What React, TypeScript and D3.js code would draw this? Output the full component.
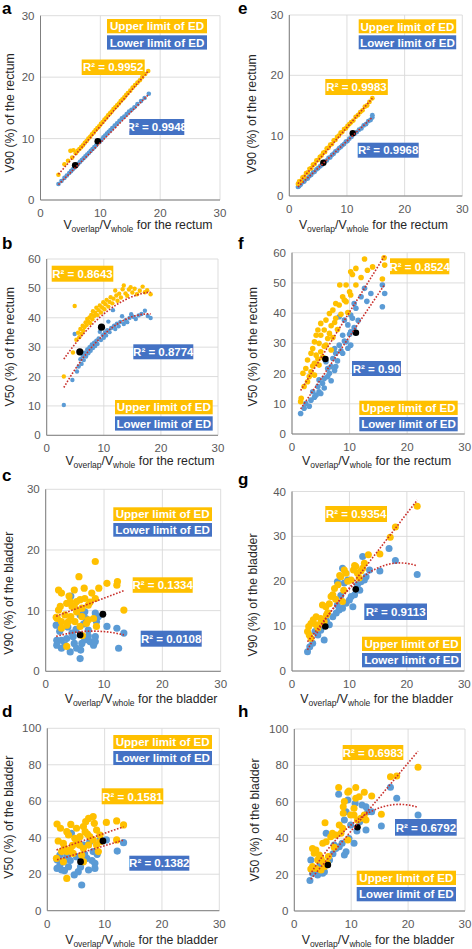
import React from 'react';
import * as d3 from 'd3';

const FONT = '"Liberation Sans", Arial, Helvetica, sans-serif';
const ORANGE = '#FFC000';
const BLUE_PT = '#5B9BD5';
const BLUE_BOX = '#4472C4';
const TREND = '#C9302C';

const xTicks = [0, 10, 20, 30];
const yTicks30 = [0, 10, 20, 30];
const yTicks40 = [0, 10, 20, 30, 40];
const yTicks60 = [0, 10, 20, 30, 40, 50, 60];
const yTicks100 = [0, 20, 40, 60, 80, 100];

// ---------- panel a : V90 rectum (ED set 1)
const aUpper = [[3.0,4.1],[4.0,5.8],[4.6,6.4],[5.0,8.0],[5.5,8.1],[5.3,6.9],[5.9,7.6],[6.2,8.0],[6.5,8.3],[6.8,8.6],[7.1,8.9],[7.4,9.3],[7.7,9.6],[8.0,10.0],[8.3,10.3],[8.6,10.7],[8.9,11.0],[9.2,11.4],[9.5,11.7],[9.8,12.0],[10.1,12.4],[10.4,12.7],[10.7,13.1],[11.0,13.4],[11.3,13.8],[11.6,14.1],[11.9,14.4],[12.2,14.8],[12.5,15.1],[12.8,15.4],[13.1,15.7],[13.4,16.1],[13.7,16.4],[14.0,16.7],[14.3,17.1],[14.6,17.4],[15.0,17.8],[15.4,18.3],[15.8,18.7],[16.2,19.1],[16.6,19.5],[17.0,20.0],[17.5,20.5],[18.0,21.0]];
const aLower = [[3.0,2.6],[3.5,3.1],[4.0,3.6],[4.4,4.0],[4.8,4.4],[5.1,4.7],[5.4,5.0],[5.7,5.3],[6.0,5.6],[6.3,5.9],[6.6,6.2],[6.9,6.5],[7.2,6.8],[7.5,7.1],[7.8,7.4],[8.1,7.7],[8.4,8.0],[8.7,8.3],[9.0,8.6],[9.3,8.9],[9.9,9.5],[10.2,9.8],[10.5,10.2],[10.8,10.5],[11.1,10.8],[11.4,11.1],[11.7,11.4],[12.0,11.7],[12.4,12.1],[12.8,12.5],[13.2,12.9],[13.6,13.3],[14.0,13.6],[14.4,14.0],[14.8,14.4],[15.2,14.7],[15.7,15.1],[16.2,15.6],[16.8,16.1],[17.4,16.6],[18.1,17.3]];
const aBlack = [[5.8,5.65],[9.57,9.55]];
const aTrend = [[0.82, 1.12, 0], [-0.42, 0.974, 0]];
const aR2 = ['0.9952', '0.9948'];

// ---------- panel e : V90 rectum (ED set 2)
const eUpper = [[1.5,2.0],[1.7,2.4],[2.0,2.5],[2.3,3.1],[2.6,3.2],[2.9,3.8],[3.2,3.9],[3.5,4.5],[3.8,4.6],[4.1,5.2],[4.4,5.3],[4.7,5.9],[5.0,6.0],[5.3,6.5],[5.6,6.7],[5.9,7.2],[6.2,7.3],[6.5,7.9],[6.8,8.0],[7.1,8.5],[7.4,8.6],[7.7,9.2],[8.0,9.3],[8.3,9.8],[8.6,10.0],[8.9,10.5],[9.2,10.6],[9.5,11.1],[9.8,11.2],[10.1,11.6],[10.4,11.9],[10.7,12.2],[11.1,12.5],[11.5,13.1],[11.9,13.4],[12.3,13.9],[12.7,14.2],[13.1,14.8],[13.5,15.0],[13.9,15.6],[14.4,16.2]];
const eLower = [[1.5,1.5],[1.7,1.6],[2.0,1.9],[2.3,2.3],[2.6,2.4],[2.9,2.8],[3.2,2.9],[3.5,3.3],[3.8,3.5],[4.1,3.9],[4.4,4.0],[4.7,4.4],[5.0,4.6],[5.3,4.9],[5.6,5.1],[6.2,5.7],[6.5,5.9],[6.8,6.3],[7.1,6.4],[7.4,6.8],[7.7,7.0],[8.0,7.4],[8.3,7.5],[8.6,7.9],[8.9,8.1],[9.2,8.4],[9.5,8.6],[9.8,9.0],[10.1,9.1],[10.4,9.5],[10.8,9.8],[11.3,10.3],[11.7,10.6],[12.1,11.0],[12.5,11.2],[12.9,11.7],[13.3,11.9],[13.7,12.4],[14.1,12.6],[14.4,13.0],[14.4,13.4]];
const eBlack = [[5.9,5.5],[11.0,10.4]];
const eTrend = [[0.39, 1.098, 0], [0.15, 0.8956, 0]];
const eR2 = ['0.9983', '0.9968'];

// ---------- panel b : V50 rectum (ED set 1)
const bUpper = [[3.0,20.0],[4.9,44.0],[4.6,28.2],[5.2,32.5],[5.5,34.9],[5.7,33.4],[5.9,36.2],[6.1,34.6],[6.3,37.3],[6.4,35.6],[6.6,36.8],[6.8,38.4],[7.0,37.5],[7.1,39.6],[7.3,38.7],[7.5,40.1],[7.6,38.2],[7.8,41.0],[8.0,39.5],[8.1,42.2],[8.3,40.6],[8.5,41.7],[8.7,43.4],[8.9,40.9],[9.1,42.6],[9.3,44.2],[9.5,41.8],[9.7,43.5],[9.9,45.3],[10.1,42.9],[10.3,44.6],[10.5,46.1],[10.8,43.8],[11.0,45.4],[11.2,47.0],[11.5,44.9],[11.7,46.5],[12.0,49.3],[12.2,47.6],[12.4,45.8],[12.7,48.2],[13.0,46.9],[13.3,49.7],[13.5,51.0],[13.8,48.3],[14.1,47.5],[14.4,49.6],[14.7,50.4],[15.0,48.6],[15.4,49.9],[15.8,48.0],[16.3,49.2],[16.8,50.6],[17.2,48.7],[17.6,49.4],[18.2,48.0]];
const bLower = [[3.0,10.3],[4.5,18.8],[4.9,34.5],[5.3,21.7],[5.6,23.4],[5.9,25.9],[6.1,24.3],[6.3,27.0],[6.5,25.6],[6.7,28.1],[6.9,26.8],[7.1,29.2],[7.3,27.9],[7.5,30.0],[7.7,28.8],[7.9,30.9],[8.1,29.7],[8.3,31.5],[8.5,30.4],[8.7,32.2],[8.9,31.1],[9.1,33.0],[9.3,35.2],[9.5,32.4],[9.8,34.1],[10.0,33.2],[10.2,35.0],[10.4,34.0],[10.6,35.8],[10.8,38.7],[11.0,35.1],[11.3,36.5],[11.6,42.6],[11.8,37.3],[12.0,36.2],[12.3,38.0],[12.6,37.1],[12.9,38.6],[13.2,40.5],[13.5,37.9],[13.8,39.2],[14.1,38.5],[14.5,39.9],[14.8,41.2],[15.2,40.3],[15.6,39.6],[16.1,40.8],[16.6,41.3],[17.2,42.4],[17.7,40.6],[18.2,39.9]];
const bBlack = [[5.8,28.4],[9.6,36.8]];
const bTrend = [[16.8, 3.296, -0.0846], [5.16, 4.04, -0.1128]];
const bR2 = ['0.8643', '0.8774'];

// ---------- panel f : V50 rectum (ED set 2)
const fUpper = [[1.5,10.7],[1.6,11.8],[1.9,20.1],[2.1,15.7],[2.4,21.7],[2.7,17.3],[2.7,24.5],[3.0,19.0],[3.3,20.6],[3.3,26.7],[3.6,28.3],[3.6,22.5],[3.9,23.4],[3.9,19.5],[3.9,30.5],[4.2,26.1],[4.2,32.7],[4.5,34.4],[4.5,24.8],[4.7,22.8],[4.7,30.0],[5.0,27.2],[5.0,32.7],[5.0,36.6],[5.3,25.5],[5.6,34.4],[5.6,29.0],[5.9,29.4],[5.9,37.7],[6.2,31.6],[6.5,33.3],[6.5,39.9],[6.8,27.8],[6.8,35.8],[7.1,41.0],[7.1,31.9],[7.4,36.9],[7.6,43.2],[7.6,38.3],[7.9,34.6],[8.2,42.7],[8.3,49.3],[8.5,39.6],[8.8,45.4],[9.1,44.3],[9.4,49.3],[9.4,43.8],[9.7,40.2],[10.0,47.1],[10.2,46.0],[10.2,53.7],[10.5,52.8],[11.1,54.8],[11.1,49.3],[12.0,51.8],[12.6,57.9],[13.1,54.2],[14.0,55.3],[15.7,51.3],[16.0,58.3],[16.1,55.9]];
const fLower = [[1.5,6.8],[2.1,8.5],[2.4,10.1],[3.0,9.2],[3.3,11.2],[3.6,14.0],[3.9,12.2],[4.2,12.9],[4.5,15.7],[4.7,14.0],[4.7,17.9],[5.0,13.4],[5.3,16.8],[5.6,18.4],[5.6,15.2],[5.9,23.9],[6.2,21.7],[6.2,19.0],[6.5,20.1],[6.8,22.3],[6.8,17.6],[7.1,25.0],[7.4,28.3],[7.4,21.0],[7.6,26.7],[7.6,22.3],[7.9,24.2],[8.2,29.4],[8.2,38.8],[8.5,27.5],[8.8,26.7],[8.8,32.7],[9.1,37.7],[9.1,30.8],[9.4,30.5],[9.7,36.1],[9.7,28.4],[10.0,33.0],[10.2,29.4],[10.2,39.4],[10.2,33.8],[10.5,38.3],[10.8,43.2],[10.8,35.2],[11.1,41.6],[11.5,37.6],[12.0,45.4],[12.6,48.2],[13.0,43.9],[13.7,46.5],[15.7,49.3],[15.7,42.1],[16.1,46.5]];
const fBlack = [[5.8,24.8],[11.1,33.5]];
const fTrend = [[9.82, 3.055, 0], [4.07, 2.82, 0]];
const fR2 = ['0.8524', '0.90'];

// ---------- panel c : V90 bladder (ED set 1)
const cUpper = [[8.5,18.1],[5.7,15.6],[10.5,14.5],[12.3,14.8],[12.2,14.2],[9.1,13.7],[6.6,13.7],[2.2,13.4],[2.7,12.9],[4.9,13.4],[7.9,12.9],[8.5,12.0],[6.7,12.0],[5.9,11.8],[5.3,11.5],[4.2,11.5],[3.6,11.2],[2.5,10.7],[4.9,10.7],[7.3,10.9],[6.2,10.4],[5.3,9.8],[2.2,10.1],[13.4,10.1],[3.3,9.3],[4.3,9.0],[6.2,9.0],[8.2,8.7],[2.0,8.7],[2.7,8.2],[5.0,8.2],[7.0,7.9],[5.9,7.4],[3.6,7.6],[8.7,7.4],[2.7,7.1],[7.3,8.5],[3.6,4.1],[6.3,5.9],[4.5,10.7],[1.8,8.9],[3.9,8.2],[7.6,11.4],[4.0,12.4]];
const cLower = [[4.3,12.4],[5.9,9.3],[6.7,9.8],[6.9,8.7],[7.3,6.8],[8.5,9.6],[9.0,9.0],[8.7,8.2],[8.5,5.7],[10.5,7.4],[12.2,7.1],[13.4,6.3],[12.5,3.8],[1.8,7.6],[1.9,5.1],[2.7,5.1],[3.3,4.3],[2.7,3.8],[4.2,3.2],[4.9,4.6],[5.3,3.8],[6.0,3.5],[5.9,2.1],[6.2,4.6],[6.7,5.2],[7.6,4.9],[8.2,4.3],[8.5,4.9],[7.3,5.8],[4.5,6.3],[3.6,5.4],[1.9,4.3],[4.7,5.7],[5.2,6.9],[2.4,6.6],[3.8,7.3],[6.5,7.8]];
const cBlack = [[5.9,6.0],[9.8,9.4]];
const cTrend = [[8.42, 0.364, 0], [5.186, 0.3565, -0.02207]];
const cR2 = ['0.1334', '0.0108'];

// ---------- panel g : V90 bladder (ED set 2)
const gUpper = [[2.7,8.8],[2.9,9.9],[3.0,8.0],[3.3,7.3],[3.3,10.6],[3.7,11.4],[4.2,10.3],[4.2,12.1],[4.5,9.6],[5.0,10.6],[5.0,11.7],[5.3,14.7],[5.6,11.0],[5.9,14.3],[6.2,13.0],[6.5,15.0],[6.8,16.6],[7.1,17.0],[7.4,18.4],[7.6,16.0],[8.0,19.2],[8.3,21.3],[8.5,21.0],[8.8,15.5],[9.1,22.5],[9.4,21.8],[9.7,20.0],[10.3,20.3],[10.7,22.5],[10.9,23.5],[11.1,23.3],[11.4,21.8],[11.7,20.7],[12.0,22.3],[12.3,22.9],[12.6,24.0],[13.3,25.9],[15.3,26.1],[17.1,29.8],[18.0,32.1],[21.8,36.7],[9.0,18.0],[6.0,12.5]];
const gLower = [[2.7,4.3],[3.1,5.4],[3.6,6.2],[5.6,6.9],[4.5,8.0],[5.0,9.1],[6.5,10.3],[7.1,12.1],[7.7,12.9],[8.2,13.6],[8.8,14.0],[7.9,14.7],[9.4,15.1],[10.0,15.8],[10.3,16.6],[10.9,17.0],[10.6,14.3],[11.4,19.2],[12.0,19.9],[12.6,20.3],[12.9,21.0],[9.7,20.3],[9.1,19.6],[7.9,19.9],[8.8,22.9],[12.3,25.5],[13.5,22.5],[15.3,22.3],[16.9,27.3],[18.0,24.6],[21.8,21.5],[4.0,8.8],[6.0,11.2],[8.5,16.8],[11.8,18.0]];
const gBlack = [[5.8,9.9],[11.1,18.2]];
const gTrend = [[2.03, 1.654, 0], [-2.34, 2.812, -0.0748]];
const gR2 = ['0.9354', '0.9113'];

// ---------- panel d : V50 bladder (ED set 1)
const dUpper = [[1.7,47.5],[2.3,45.2],[1.9,38.2],[1.6,28.7],[2.8,36.9],[3.4,43.3],[4.1,47.3],[3.7,41.5],[3.4,32.4],[4.0,33.3],[3.4,17.7],[4.8,39.7],[5.1,45.2],[5.7,40.6],[5.6,36.0],[6.3,46.1],[6.6,43.3],[6.7,48.8],[7.2,50.6],[8.0,51.6],[8.2,47.9],[8.6,44.2],[7.4,40.6],[8.0,38.8],[7.2,36.0],[6.3,34.2],[4.5,31.4],[2.5,32.4],[2.8,26.9],[6.3,26.9],[9.2,37.8],[10.3,48.4],[12.1,49.2],[13.3,47.0],[12.1,38.8],[9.2,41.5],[8.9,32.4],[6.0,30.5],[5.2,37.8],[8.6,36.0],[3.0,34.5],[4.4,35.8],[7.0,42.0]];
const dLower = [[1.7,23.2],[2.2,25.0],[2.5,22.3],[2.8,26.9],[3.4,29.6],[3.7,24.1],[4.7,19.6],[5.4,21.4],[6.0,14.1],[5.1,29.6],[6.9,28.7],[7.2,22.3],[8.3,26.0],[8.3,23.2],[7.4,37.8],[8.0,32.4],[9.2,38.8],[10.3,38.8],[12.2,32.7],[13.3,37.3],[4.2,42.4],[6.3,36.0],[2.2,30.5],[8.7,30.9],[1.7,28.0],[3.0,22.0],[4.0,27.5],[5.8,24.0],[7.8,27.5],[6.5,31.0]];
const dBlack = [[5.8,26.9],[9.7,38.2]];
const dTrend = [[31.6, 1.085, 0], [26.3, 0.932, 0]];
const dR2 = ['0.1581', '0.1382'];

// ---------- panel h : V50 bladder (ED set 2)
const hUpper = [[7.8,67.8],[10.8,67.8],[9.6,65.9],[9.4,65.2],[12.3,65.2],[11.4,62.8],[10.8,61.9],[8.8,60.1],[8.6,57.3],[10.5,56.4],[9.9,52.7],[8.6,53.7],[12.3,52.7],[11.1,50.0],[11.7,50.9],[12.6,50.0],[8.5,45.4],[8.2,42.7],[7.3,41.8],[6.7,42.7],[6.4,40.8],[5.4,48.5],[5.6,38.1],[5.0,37.2],[3.2,34.4],[3.8,33.5],[3.5,31.7],[4.4,30.8],[4.7,28.9],[4.1,28.0],[5.0,27.1],[5.8,26.2],[3.2,24.4],[3.8,23.4],[2.9,23.1],[4.7,22.5],[5.3,24.4],[9.4,39.0],[7.9,47.3],[10.5,52.7],[13.6,63.2],[15.3,53.1],[16.9,73.8],[18.0,74.2],[21.75,79.0],[7.0,35.0],[6.0,30.0]];
const hLower = [[2.75,16.7],[3.2,20.7],[2.9,28.0],[4.1,19.8],[5.0,20.7],[5.3,21.6],[5.6,42.7],[7.0,36.3],[7.3,34.4],[7.9,35.3],[8.4,37.2],[9.1,32.6],[8.8,30.8],[9.6,39.9],[9.9,47.3],[8.8,50.0],[7.8,64.1],[10.7,59.2],[9.4,61.0],[11.9,58.2],[12.6,57.3],[11.5,49.1],[12.6,44.5],[10.5,37.2],[12.9,54.6],[9.1,54.6],[13.6,54.6],[15.3,46.7],[16.9,68.0],[18.0,61.9],[21.75,52.7],[4.5,25.0],[6.2,28.0],[11.0,44.0],[3.8,22.5],[6.8,31.5]];
const hBlack = [[5.9,25.3],[11.1,46.0]];
const hTrend = [[6.7, 3.73, 0], [5.31, 5.761, -0.1557]];
const hR2 = ['0.6983', '0.6792'];

const panels = [
  { id: 'a', upper: aUpper, lower: aLower, black: aBlack, trend: aTrend, r2: aR2, yTicks: yTicks30, metric: 'V90', organ: 'rectum',
    x0: 40.5, x1: 220, y0: 200, y1: 15.7, r: 2.3, rb: 3.3, letter: [2, 14],
    legend: [107, 19, 100, 14.3], r2Box: [[81.7, 59.5, 63, 15.5], [129.3, 119, 55, 16]], xTitle: [138, 229], yTitle: [10, 113] },
  { id: 'e', upper: eUpper, lower: eLower, black: eBlack, trend: eTrend, r2: eR2, yTicks: yTicks30, metric: 'V90', organ: 'rectum',
    x0: 289.3, x1: 462.3, y0: 196, y1: 15, r: 2.4, rb: 3.2, letter: [238, 14],
    legend: [358.7, 19.3, 97.5, 14], r2Box: [[325.3, 79, 62.5, 16], [357.7, 142.7, 61, 15]], xTitle: [373.5, 229], yTitle: [252, 114] },
  { id: 'b', upper: bUpper, lower: bLower, black: bBlack, trend: bTrend, r2: bR2, yTicks: yTicks60, metric: 'V50', organ: 'rectum',
    x0: 46.7, x1: 218, y0: 435.3, y1: 259, r: 2.2, rb: 3.6, letter: [2, 249],
    legend: [115, 400, 97.7, 14.3], r2Box: [[51.7, 265.7, 61.6, 16], [133.3, 344.3, 60, 15]], xTitle: [140, 465], yTitle: [10, 346.7] },
  { id: 'f', upper: fUpper, lower: fLower, black: fBlack, trend: fTrend, r2: fR2, yTicks: yTicks60, metric: 'V50', organ: 'rectum',
    x0: 292, x1: 464.7, y0: 434, y1: 252.7, r: 2.8, rb: 3.3, letter: [238, 249],
    legend: [359.3, 400.7, 98.4, 14.3], r2Box: [[390, 258.3, 59.3, 16], [352, 361, 49, 15]], xTitle: [376.7, 465], yTitle: [253, 346.7] },
  { id: 'c', upper: cUpper, lower: cLower, black: cBlack, trend: cTrend, r2: cR2, yTicks: yTicks30, metric: 'V90', organ: 'bladder',
    x0: 45.7, x1: 220.7, y0: 671.3, y1: 489.3, r: 3.6, rb: 3.4, letter: [2, 481],
    legend: [113.3, 507.3, 98.7, 13.7], r2Box: [[132.7, 577.3, 60, 15.5], [140.7, 630.7, 61, 16]], xTitle: [141, 703], yTitle: [9, 593.3] },
  { id: 'g', upper: gUpper, lower: gLower, black: gBlack, trend: gTrend, r2: gR2, yTicks: yTicks40, metric: 'V90', organ: 'bladder',
    x0: 292, x1: 464.3, y0: 671, y1: 491.5, r: 3.5, rb: 3.3, letter: [238, 485],
    legend: [362, 636.7, 99, 14.3], r2Box: [[325.3, 506, 61.7, 16], [364.3, 603.5, 62.7, 16.5]], xTitle: [376.7, 703], yTitle: [253, 595] },
  { id: 'd', upper: dUpper, lower: dLower, black: dBlack, trend: dTrend, r2: dR2, yTicks: yTicks100, metric: 'V50', organ: 'bladder',
    x0: 47.3, x1: 219.3, y0: 910.7, y1: 728.3, r: 3.6, rb: 3.4, letter: [2, 717],
    legend: [113.3, 735, 98.7, 14], r2Box: [[101.7, 788.3, 61.6, 16], [129.3, 855.7, 60, 15]], xTitle: [141.5, 944], yTitle: [9, 817.3] },
  { id: 'h', upper: hUpper, lower: hLower, black: hBlack, trend: hTrend, r2: hR2, yTicks: yTicks100, metric: 'V50', organ: 'bladder',
    x0: 294.3, x1: 465, y0: 911, y1: 729, r: 3.5, rb: 3.3, letter: [238, 717],
    legend: [356.7, 870.7, 99.3, 14.3], r2Box: [[342.7, 745, 60.6, 15], [395, 819, 61.7, 16.7]], xTitle: [378, 944], yTitle: [254.5, 820] },
];

function Panel({ p }) {
  const yMax = p.yTicks[p.yTicks.length - 1];
  const x = d3.scaleLinear().domain([0, 30]).range([p.x0, p.x1]);
  const y = d3.scaleLinear().domain([0, yMax]).range([p.y0, p.y1]);
  const series = [p.upper, p.lower];
  const line = d3.line().x((d) => x(d[0])).y((d) => y(d[1]));
  const trendPaths = p.trend.map((c, i) => {
    const [lo, hi] = d3.extent(series[i], (d) => d[0]);
    const n = 40;
    const pts = d3.range(n + 1).map((k) => {
      const xv = lo + ((hi - lo) * k) / n;
      return [xv, c[0] + c[1] * xv + c[2] * xv * xv];
    });
    return line(pts);
  });
  const boxFill = [ORANGE, BLUE_BOX];
  const [lx, ly, lw, lh] = p.legend;
  return (
    <g>
      {xTicks.map((t) => (
        <line key={'gx' + t} x1={x(t)} x2={x(t)} y1={p.y0} y2={p.y1} stroke="#d9d9d9" strokeWidth={0.9} />
      ))}
      {p.yTicks.map((t) => (
        <line key={'gy' + t} x1={p.x0} x2={p.x1} y1={y(t)} y2={y(t)} stroke="#d9d9d9" strokeWidth={0.9} />
      ))}
      <line x1={p.x0} x2={p.x0} y1={p.y0} y2={p.y1} stroke="#7f7f7f" strokeWidth={1} />
      <line x1={p.x0} x2={p.x1} y1={p.y0} y2={p.y0} stroke="#7f7f7f" strokeWidth={1} />
      {xTicks.map((t) => (
        <text key={'tx' + t} x={x(t)} y={p.y0 + 16.8} textAnchor="middle" fontSize={11.5} fill="#595959" fontFamily={FONT}>{t}</text>
      ))}
      {p.yTicks.map((t) => (
        <text key={'ty' + t} x={p.x0 - 6} y={y(t) + 4} textAnchor="end" fontSize={11.5} fill="#595959" fontFamily={FONT}>{t}</text>
      ))}
      {p.lower.map((d, i) => (
        <circle key={'l' + i} cx={x(d[0])} cy={y(d[1])} r={p.r} fill={BLUE_PT} />
      ))}
      {p.upper.map((d, i) => (
        <circle key={'u' + i} cx={x(d[0])} cy={y(d[1])} r={p.r} fill={ORANGE} />
      ))}
      {p.black.map((d, i) => (
        <circle key={'k' + i} cx={x(d[0])} cy={y(d[1])} r={p.rb} fill="#000" />
      ))}
      {trendPaths.map((d, i) => (
        <path key={'tr' + i} d={d} fill="none" stroke={TREND} strokeWidth={1.6} strokeDasharray="1.6 1.6" />
      ))}
      {p.r2Box.map((b, i) => (
        <g key={'r2' + i}>
          <rect x={b[0]} y={b[1]} width={b[2]} height={b[3]} fill={boxFill[i]} />
          <text x={b[0] + b[2] / 2} y={b[1] + b[3] / 2 + 4.2} textAnchor="middle" fontSize={11.5} fontWeight="bold" fill="#fff" fontFamily={FONT}>
            {'R² = ' + p.r2[i]}
          </text>
        </g>
      ))}
      {['Upper limit of ED', 'Lower limit of ED'].map((t, i) => (
        <g key={'lg' + i}>
          <rect x={lx} y={ly + i * (lh + 2)} width={lw} height={lh} fill={boxFill[i]} />
          <text x={lx + lw / 2} y={ly + i * (lh + 2) + lh / 2 + 4.2} textAnchor="middle" fontSize={11.6} fontWeight="bold" fill="#fff" fontFamily={FONT}>{t}</text>
        </g>
      ))}
      <text transform={`translate(${p.yTitle[0]},${p.yTitle[1]}) rotate(-90)`} y={4} textAnchor="middle" fontSize={12.3} fill="#262626" fontFamily={FONT}>
        {p.metric + ' (%) of the ' + p.organ}
      </text>
      <text x={p.xTitle[0]} y={p.xTitle[1]} textAnchor="middle" fontSize={12.3} fill="#262626" fontFamily={FONT}>
        V<tspan fontSize={8.5} dy={3}>overlap</tspan><tspan dy={-3}>/V</tspan><tspan fontSize={8.5} dy={3}>whole</tspan><tspan dy={-3}>{'  for the ' + p.organ}</tspan>
      </text>
      <text x={p.letter[0]} y={p.letter[1]} fontSize={17} fontWeight="bold" fill="#000" fontFamily={FONT}>{p.id}</text>
    </g>
  );
}

export default function App() {
  return (
    <svg width={472} height={949} viewBox="0 0 472 949" style={{ position: 'absolute', left: 0, top: 0, background: '#fff' }}>
      <rect x={0} y={0} width={472} height={949} fill="#fff" />
      {panels.map((p) => (
        <Panel key={p.id} p={p} />
      ))}
    </svg>
  );
}
